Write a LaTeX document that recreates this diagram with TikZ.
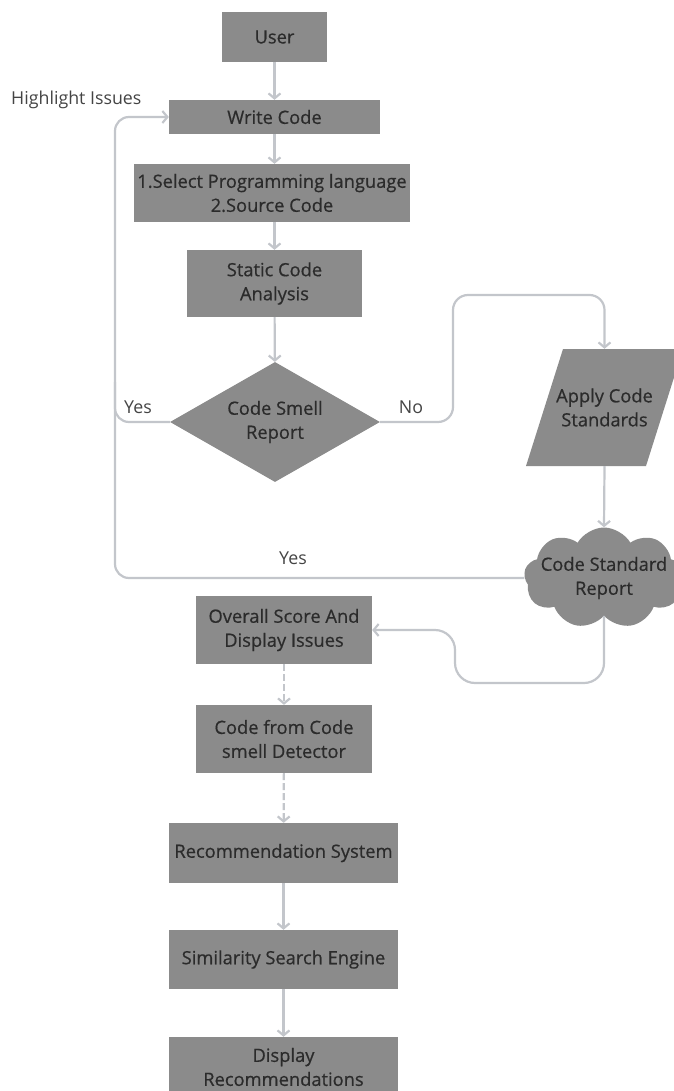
\documentclass[tikz,border=0pt]{standalone}
\usepackage{fontspec}
\setmainfont{Open Sans}
\newfontfamily\boxfont{Open Sans}[FakeBold=0.6]
\usetikzlibrary{arrows.meta,shapes.geometric,shapes.symbols,calc}
\definecolor{boxgray}{HTML}{8B8B8B}
\definecolor{txtgray}{HTML}{2B2B2B}
\definecolor{lblgray}{HTML}{444444}
\definecolor{linegray}{HTML}{C3C6CB}
\begin{document}
\begin{tikzpicture}[x=1pt,y=-1pt,
  box/.style={fill=boxgray, text=txtgray, align=center, inner sep=0pt,
    font=\boxfont\fontsize{18.3}{24}\selectfont},
  boxtext/.style={text=txtgray, align=center, inner sep=0pt,
    font=\boxfont\fontsize{18.3}{24}\selectfont},
  lbl/.style={text=lblgray, inner sep=0pt, font=\fontsize{17.8}{20}\selectfont},
  conn/.style={draw=linegray, line width=2.2pt},
  arr/.style={conn, -{Straight Barb[length=5pt,width=12pt]}},
  darr/.style={arr, dash pattern=on 7pt off 3pt}
]
\useasboundingbox (0,0) rectangle (673,1091);

% main column
\node[box, minimum width=105pt, minimum height=50pt] (user) at (274.5,37) {User};
\node[box, minimum width=211pt, minimum height=34pt] (write) at (274.5,117) {Write Code};
\node[box, minimum width=276pt, minimum height=58pt] (select) at (272,193) {1.Select Programming language\\2.Source Code};
\node[box, minimum width=175pt, minimum height=67pt] (static) at (274.5,283.5) {Static Code\\Analysis};
\node[diamond, fill=boxgray, inner sep=0pt, minimum width=210pt, minimum height=120pt] (smell) at (275,422) {};
\node[boxtext] (smelltxt) at (smell.center) {Code Smell\\Report};

% parallelogram
\coordinate (ac) at (604.5,407.5);
\fill[boxgray] ($(ac)+(-78.5,58.5)$) -- ($(ac)+(41.5,58.5)$) -- ($(ac)+(78.5,-58.5)$) -- ($(ac)+(-41.5,-58.5)$) -- cycle;
\node[boxtext, minimum width=120pt, minimum height=117pt] (apply) at (ac) {Apply Code\\Standards};

% cloud
\node[cloud, cloud puffs=9, cloud puff arc=120, cloud ignores aspect, fill=boxgray, inner sep=0pt,
  minimum width=160pt, minimum height=101pt] (cloud) at (604,578) {};
\node[boxtext] (cloudtxt) at (cloud.center) {Code Standard\\Report};

% lower column
\node[box, minimum width=176pt, minimum height=68pt] (overall) at (284,630) {Overall Score And\\Display Issues};
\node[box, minimum width=176pt, minimum height=68pt] (codefrom) at (284,739) {Code from Code\\smell Detector};
\node[box, minimum width=229pt, minimum height=60pt] (rec) at (283.5,853) {Recommendation System};
\node[box, minimum width=229pt, minimum height=59pt] (sim) at (283.5,959.5) {Similarity Search Engine};
\node[box, minimum width=229pt, minimum height=60pt] (disp) at (283.5,1067) {Display\\Recommendations};

% labels
\node[lbl, anchor=west] (hl) at (11,100) {Highlight Issues};
\node[lbl] (yes1) at (138,407) {Yes};
\node[lbl] (no) at (411,407) {No};
\node[lbl] (yes2) at (293,558) {Yes};

% helper coordinates
\coordinate (loopx) at (115,0);
\coordinate (nox) at (453,295);
\coordinate (botr) at (455,683);

% connectors
\draw[arr] (user) -- (write);
\draw[arr] (write.south -| select.north) ++(2.5,0) -- ($(select.north)+(2.5,0)$);
\draw[arr] ($(select.south)+(2.5,0)$) -- (static.north);
\draw[arr] (static) -- (smell);
\draw[arr, rounded corners=14pt] (cloud.west) -- (cloud.west -| loopx) -- (write.west -| loopx) -- (write.west);
\draw[conn, rounded corners=14pt] (smell.west) -- (smell.west -| loopx) -- ++(0,-40);
\draw[arr, rounded corners=15pt] (smell.east) -- (smell.east -| nox) -- (nox) -- (nox -| apply.north) -- (apply.north);
\draw[arr] (apply.south) -- (cloud.north);
\draw[arr, rounded corners=20pt] (cloud.south) -- (cloud.south |- botr) -- (botr) -- (botr |- overall.east) -- (overall.east);
\draw[darr] (overall) -- (codefrom);
\draw[darr] (codefrom) -- (rec);
\draw[arr] (rec) -- (sim);
\draw[arr] (sim) -- (disp);
\end{tikzpicture}
\end{document}
